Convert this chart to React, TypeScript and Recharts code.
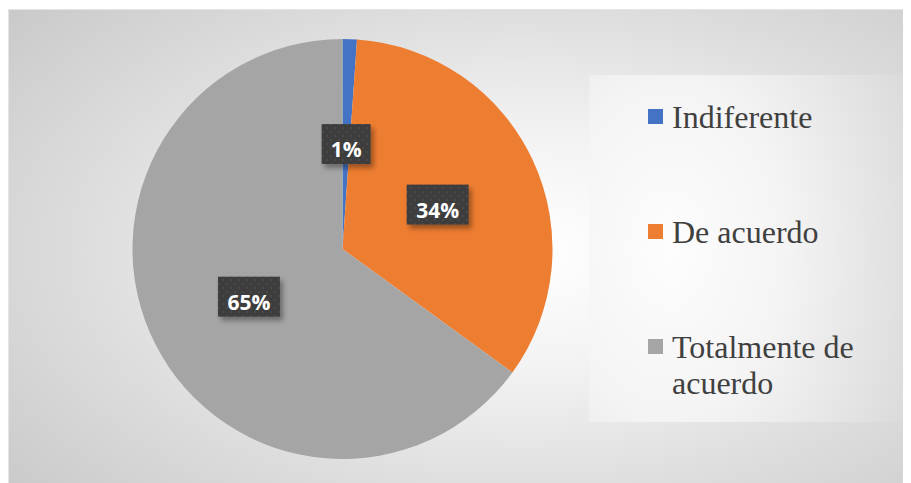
import React from 'react';
import { PieChart, Pie, Cell, Legend } from 'recharts';

const categories = ['Indiferente', 'De acuerdo', 'Totalmente de acuerdo'];
const values = [1.1, 33.9, 65];
const colors = ['#4472C4', '#ED7D31', '#A5A5A5'];

const data = categories.map((name, i) => ({ name, value: values[i] }));

const RAD = Math.PI / 180;

const renderLabel = (props: any) => {
  const { cx, cy, midAngle, outerRadius, percent, index } = props;
  const r = outerRadius * 0.5;
  const x = cx + r * Math.cos(-midAngle * RAD);
  const y = cy + r * Math.sin(-midAngle * RAD);
  const text = `${Math.round(percent * 100)}%`;
  const textW = text.length === 2 ? 30 : 43;
  const w = textW + 19;
  const h = 40;
  const pid = `dots-${index}`;
  const fid = `shadow-${index}`;
  return (
    <g>
      <defs>
        <pattern id={pid} x={0} y={0} width={8} height={8} patternUnits="userSpaceOnUse">
          <rect x={0} y={0} width={8} height={8} fill="#3d3d3d" />
          <circle cx={2} cy={2} r={1.1} fill="#4d4d4d" />
          <circle cx={6} cy={6} r={1.1} fill="#4d4d4d" />
        </pattern>
        <filter id={fid} x="-30%" y="-30%" width="160%" height="160%">
          <feDropShadow dx={3} dy={4} stdDeviation={2.5} floodColor="#000" floodOpacity={0.35} />
        </filter>
      </defs>
      <rect x={x - w / 2} y={y - h / 2} width={w} height={h} fill={`url(#${pid})`} filter={`url(#${fid})`} />
      <text
        x={x}
        y={y + 13}
        textAnchor="middle"
        fill="#ffffff"
        style={{ fontFamily: '"Open Sans", Lato, sans-serif', fontWeight: 700, fontSize: 21 }}
      >
        {text}
      </text>
    </g>
  );
};

const legendTops = [24, 139, 254];

const renderLegend = (props: any) => {
  const payload = [...(props.payload || [])].sort(
    (a: any, b: any) => categories.indexOf(a.value) - categories.indexOf(b.value)
  );
  return (
    <div
      style={{
        position: 'relative',
        width: 322,
        height: 347,
        background: 'radial-gradient(ellipse 90% 120% at 25% 50%, #fdfdfd 0%, #f4f4f4 40%, #d6d6d6 100%)',
        fontFamily: '"Liberation Serif", "Times New Roman", serif',
        color: '#404040',
      }}
    >
      {payload.map((entry: any, i: number) => (
        <div key={i} style={{ position: 'absolute', left: 59, top: legendTops[i], width: 250 }}>
          <div
            style={{
              position: 'absolute',
              left: 0,
              top: 10,
              width: 15,
              height: 15,
              background: entry.color,
            }}
          />
          <div
            style={{
              position: 'absolute',
              left: 24,
              top: 0,
              width: 220,
              fontSize: 32,
              lineHeight: '36px',
              whiteSpace: 'normal',
            }}
          >
            {entry.value}
          </div>
        </div>
      ))}
    </div>
  );
};

export default function App() {
  return (
    <div
      style={{
        marginTop: 1,
        width: 903,
        height: 474,
        boxSizing: 'border-box',
        borderTop: '1px solid #e4e4e4',
        borderLeft: '1px solid #e4e4e4',
        background: 'radial-gradient(ellipse 75% 80% at 57% 51%, #ffffff 0%, #f3f3f3 30%, #dddddd 65%, #c9c9c9 100%)',
      }}
    >
      <PieChart width={902} height={473} margin={{ top: 0, right: 0, bottom: 0, left: 0 }}>
        <Pie
          data={data}
          dataKey="value"
          nameKey="name"
          cx={333.5}
          cy={239}
          outerRadius={210}
          startAngle={90}
          endAngle={-270}
          stroke="none"
          label={renderLabel}
          labelLine={false}
          isAnimationActive={false}
        >
          {data.map((d, i) => (
            <Cell key={d.name} fill={colors[i]} />
          ))}
        </Pie>
        <Legend
          content={renderLegend}
          itemSorter={null as any}
          wrapperStyle={{ left: 580, top: 65, width: 322, height: 347 }}
        />
      </PieChart>
    </div>
  );
}
